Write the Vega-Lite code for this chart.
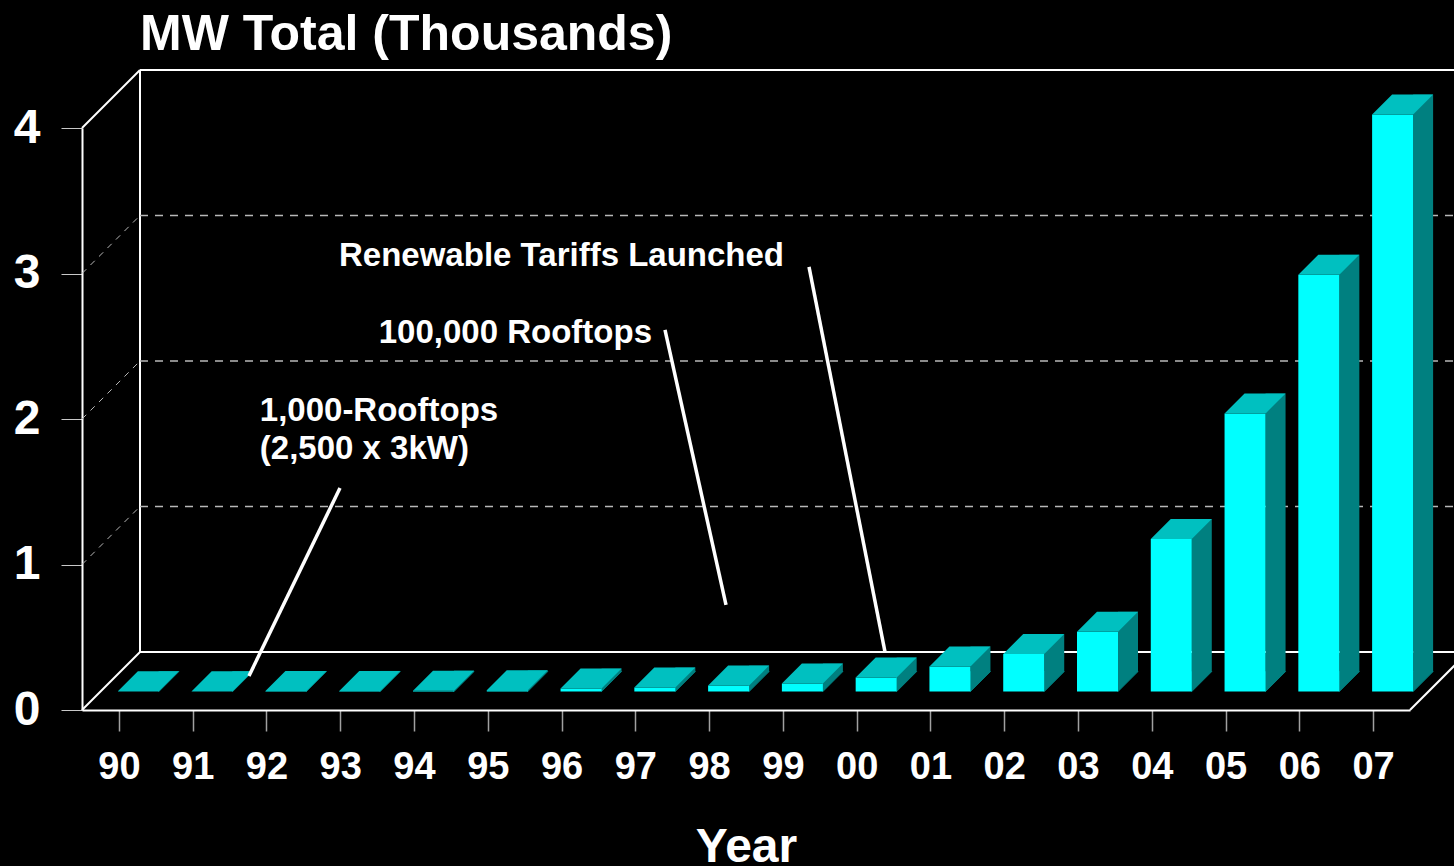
{
  "$schema": "https://vega.github.io/schema/vega-lite/v6.json",
  "width": 1328,
  "height": 582,
  "autosize": "none",
  "padding": {"left": 82, "top": 128, "right": 44, "bottom": 156},
  "background": "#000000",
  "config": {"view": {"stroke": null}, "font": "Liberation Sans", "axis": {"grid": false}},
  "title": {
    "text": "MW Total (Thousands)",
    "anchor": "start",
    "frame": "group",
    "fontSize": 50,
    "fontWeight": "bold",
    "color": "#ffffff",
    "font": "Liberation Sans",
    "dx": 58,
    "dy": 51,
    "offset": 20,
    "baseline": "alphabetic"
  },
  "data": {
    "values": [
      {"year": 1990, "mw": 0.001},
      {"year": 1991, "mw": 0.002},
      {"year": 1992, "mw": 0.003},
      {"year": 1993, "mw": 0.004},
      {"year": 1994, "mw": 0.006},
      {"year": 1995, "mw": 0.008},
      {"year": 1996, "mw": 0.02},
      {"year": 1997, "mw": 0.028},
      {"year": 1998, "mw": 0.041},
      {"year": 1999, "mw": 0.055},
      {"year": 2000, "mw": 0.096},
      {"year": 2001, "mw": 0.172},
      {"year": 2002, "mw": 0.257},
      {"year": 2003, "mw": 0.41},
      {"year": 2004, "mw": 1.048},
      {"year": 2005, "mw": 1.911},
      {"year": 2006, "mw": 2.864},
      {"year": 2007, "mw": 3.966}
    ]
  },
  "layer": [
    {
      "data": {"values": [{}]},
      "mark": {"type": "rule", "color": "#ffffff", "strokeWidth": 2, "xOffset": 58, "x2Offset": 58, "yOffset": -58, "y2Offset": -58},
      "encoding": {
        "x": {
          "datum": 1989.5,
          "type": "quantitative",
          "scale": {"domain": [1989.5, 2007.5], "nice": false, "zero": false, "padding": 0},
          "axis": {
            "values": [1990, 1991, 1992, 1993, 1994, 1995, 1996, 1997, 1998, 1999, 2000, 2001, 2002, 2003, 2004, 2005, 2006, 2007],
            "format": "d",
            "labelExpr": "slice(toString(datum.value), 2)",
            "labelOverlap": false,
            "labelFlush": false,
            "labelFont": "Liberation Sans",
            "labelFontSize": 38,
            "labelFontWeight": "bold",
            "labelColor": "#ffffff",
            "labelPadding": 17,
            "tickSize": 21,
            "tickColor": "#a0a0a0",
            "tickWidth": 1.5,
            "domainColor": "#ffffff",
            "domainWidth": 2,
            "grid": false,
            "title": "Year",
            "titleFont": "Liberation Sans",
            "titleFontSize": 48,
            "titleFontWeight": "bold",
            "titleColor": "#ffffff",
            "titleBaseline": "alphabetic",
            "titleY": 151,
            "titleX": 664,
            "titleAlign": "center"
          }
        },
        "x2": {"datum": 2010},
        "y": {
          "datum": 4,
          "type": "quantitative",
          "scale": {"domain": [0, 4], "nice": false, "padding": 0},
          "axis": {
            "values": [0, 1, 2, 3, 4],
            "format": "d",
            "labelFont": "Liberation Sans",
            "labelFontSize": 48,
            "labelFontWeight": "bold",
            "labelColor": "#ffffff",
            "labelPadding": 21,
            "labelOverlap": false,
            "labelFlush": false,
            "tickSize": 21,
            "tickColor": "#c8c8c8",
            "tickWidth": 1,
            "domainColor": "#ffffff",
            "domainWidth": 2,
            "grid": false,
            "title": null
          }
        },
        "y2": {"datum": 4}
      }
    },
    {
      "data": {"values": [{}]},
      "mark": {"type": "rule", "color": "#ffffff", "strokeWidth": 2, "xOffset": 58, "x2Offset": 58, "yOffset": -58, "y2Offset": -58},
      "encoding": {
        "x": {"datum": 1989.5, "type": "quantitative", "scale": {"domain": [1989.5, 2007.5], "nice": false, "zero": false, "padding": 0}},
        "x2": {"datum": 1989.5},
        "y": {"datum": 0, "type": "quantitative", "scale": {"domain": [0, 4], "nice": false, "padding": 0}},
        "y2": {"datum": 4}
      }
    },
    {
      "data": {"values": [{}]},
      "mark": {"type": "rule", "color": "#ffffff", "strokeWidth": 2, "xOffset": 58, "x2Offset": 58, "yOffset": -58, "y2Offset": -58},
      "encoding": {
        "x": {"datum": 1989.5, "type": "quantitative", "scale": {"domain": [1989.5, 2007.5], "nice": false, "zero": false, "padding": 0}},
        "x2": {"datum": 2010},
        "y": {"datum": 0, "type": "quantitative", "scale": {"domain": [0, 4], "nice": false, "padding": 0}},
        "y2": {"datum": 0}
      }
    },
    {
      "data": {"values": [{}]},
      "mark": {"type": "rule", "color": "#ffffff", "strokeWidth": 2, "x2Offset": 58, "y2Offset": -58},
      "encoding": {
        "x": {"datum": 1989.5, "type": "quantitative", "scale": {"domain": [1989.5, 2007.5], "nice": false, "zero": false, "padding": 0}},
        "x2": {"datum": 1989.5},
        "y": {"datum": 0, "type": "quantitative", "scale": {"domain": [0, 4], "nice": false, "padding": 0}},
        "y2": {"datum": 0}
      }
    },
    {
      "data": {"values": [{}]},
      "mark": {"type": "rule", "color": "#ffffff", "strokeWidth": 2, "x2Offset": 58, "y2Offset": -58},
      "encoding": {
        "x": {"datum": 1989.5, "type": "quantitative", "scale": {"domain": [1989.5, 2007.5], "nice": false, "zero": false, "padding": 0}},
        "x2": {"datum": 1989.5},
        "y": {"datum": 4, "type": "quantitative", "scale": {"domain": [0, 4], "nice": false, "padding": 0}},
        "y2": {"datum": 4}
      }
    },
    {
      "data": {"values": [{}]},
      "mark": {"type": "rule", "color": "#ffffff", "strokeWidth": 2, "x2Offset": 58, "y2Offset": -58},
      "encoding": {
        "x": {"datum": 2007.5, "type": "quantitative", "scale": {"domain": [1989.5, 2007.5], "nice": false, "zero": false, "padding": 0}},
        "x2": {"datum": 2007.5},
        "y": {"datum": 0, "type": "quantitative", "scale": {"domain": [0, 4], "nice": false, "padding": 0}},
        "y2": {"datum": 0}
      }
    },
    {
      "data": {"values": [{"g": 1}, {"g": 2}, {"g": 3}]},
      "mark": {"type": "rule", "color": "#b8b8b8", "strokeWidth": 1.5, "strokeDash": [8, 7], "xOffset": 58, "x2Offset": 58, "yOffset": -58, "y2Offset": -58},
      "encoding": {
        "x": {"datum": 1989.5, "type": "quantitative", "scale": {"domain": [1989.5, 2007.5], "nice": false, "zero": false, "padding": 0}},
        "x2": {"datum": 2010},
        "y": {"field": "g", "type": "quantitative", "scale": {"domain": [0, 4], "nice": false, "padding": 0}},
        "y2": {"field": "g"}
      }
    },
    {
      "data": {"values": [{"g": 1}, {"g": 2}, {"g": 3}]},
      "mark": {"type": "rule", "color": "#b8b8b8", "strokeWidth": 1, "strokeDash": [6, 6], "x2Offset": 58, "y2Offset": -58},
      "encoding": {
        "x": {"datum": 1989.5, "type": "quantitative", "scale": {"domain": [1989.5, 2007.5], "nice": false, "zero": false, "padding": 0}},
        "x2": {"datum": 1989.5},
        "y": {"field": "g", "type": "quantitative", "scale": {"domain": [0, 4], "nice": false, "padding": 0}},
        "y2": {"field": "g"}
      }
    },
    {
      "mark": {"type": "bar", "orient": "vertical", "color": "#008080", "width": 20, "xOffset": 50, "yOffset": -38.5, "y2Offset": -38.5},
      "encoding": {
        "x": {"field": "year", "type": "quantitative", "scale": {"domain": [1989.5, 2007.5], "nice": false, "zero": false, "padding": 0}},
        "y": {"field": "mw", "type": "quantitative", "scale": {"domain": [0, 4], "nice": false, "padding": 0}},
        "y2": {"datum": 0}
      }
    },
    {
      "mark": {"type": "point", "filled": true, "opacity": 1, "size": 4, "fill": "#008080", "stroke": "#008080", "strokeWidth": 1, "shape": "M 40 -38.5 L 40 -18.5 L 60 -38.5 Z"},
      "encoding": {
        "x": {"field": "year", "type": "quantitative", "scale": {"domain": [1989.5, 2007.5], "nice": false, "zero": false, "padding": 0}},
        "y": {"datum": 0, "type": "quantitative", "scale": {"domain": [0, 4], "nice": false, "padding": 0}}
      }
    },
    {
      "mark": {"type": "bar", "orient": "vertical", "color": "#00ffff", "width": 41, "xOffset": 19.5, "yOffset": -18.5, "y2Offset": -18.5},
      "encoding": {
        "x": {"field": "year", "type": "quantitative", "scale": {"domain": [1989.5, 2007.5], "nice": false, "zero": false, "padding": 0}},
        "y": {"field": "mw", "type": "quantitative", "scale": {"domain": [0, 4], "nice": false, "padding": 0}},
        "y2": {"datum": 0}
      }
    },
    {
      "mark": {"type": "point", "filled": true, "opacity": 1, "size": 4, "color": "#00c0c0", "strokeWidth": 0, "shape": "M -1 -18.5 L 40 -18.5 L 60 -38.5 L 19 -38.5 Z"},
      "encoding": {
        "x": {"field": "year", "type": "quantitative", "scale": {"domain": [1989.5, 2007.5], "nice": false, "zero": false, "padding": 0}},
        "y": {"field": "mw", "type": "quantitative", "scale": {"domain": [0, 4], "nice": false, "padding": 0}}
      }
    },
    {
      "data": {
        "values": [
          {"x1": 1999.354, "y1": 3.045, "x2": 2000.384, "y2": 0.399},
          {"x1": 1997.402, "y1": 2.612, "x2": 1998.229, "y2": 0.722},
          {"x1": 1992.997, "y1": 1.526, "x2": 1991.763, "y2": 0.234}
        ]
      },
      "mark": {"type": "rule", "color": "#ffffff", "strokeWidth": 3.5},
      "encoding": {
        "x": {"field": "x1", "type": "quantitative", "scale": {"domain": [1989.5, 2007.5], "nice": false, "zero": false, "padding": 0}},
        "x2": {"field": "x2"},
        "y": {"field": "y1", "type": "quantitative", "scale": {"domain": [0, 4], "nice": false, "padding": 0}},
        "y2": {"field": "y2"}
      }
    },
    {
      "data": {
        "values": [
          {"label": "Renewable Tariffs Launched", "tx": 1999.015, "ty": 3.052},
          {"label": "100,000 Rooftops", "tx": 1997.226, "ty": 2.522}
        ]
      },
      "mark": {"type": "text", "align": "right", "baseline": "alphabetic", "color": "#ffffff", "font": "Liberation Sans", "fontSize": 33, "fontWeight": "bold"},
      "encoding": {
        "x": {"field": "tx", "type": "quantitative", "scale": {"domain": [1989.5, 2007.5], "nice": false, "zero": false, "padding": 0}},
        "y": {"field": "ty", "type": "quantitative", "scale": {"domain": [0, 4], "nice": false, "padding": 0}},
        "text": {"field": "label"}
      }
    },
    {
      "data": {
        "values": [
          {"label": "1,000-Rooftops", "tx": 1991.91, "ty": 1.986},
          {"label": "(2,500 x 3kW)", "tx": 1991.91, "ty": 1.725}
        ]
      },
      "mark": {"type": "text", "align": "left", "baseline": "alphabetic", "color": "#ffffff", "font": "Liberation Sans", "fontSize": 33, "fontWeight": "bold"},
      "encoding": {
        "x": {"field": "tx", "type": "quantitative", "scale": {"domain": [1989.5, 2007.5], "nice": false, "zero": false, "padding": 0}},
        "y": {"field": "ty", "type": "quantitative", "scale": {"domain": [0, 4], "nice": false, "padding": 0}},
        "text": {"field": "label"}
      }
    }
  ]
}
